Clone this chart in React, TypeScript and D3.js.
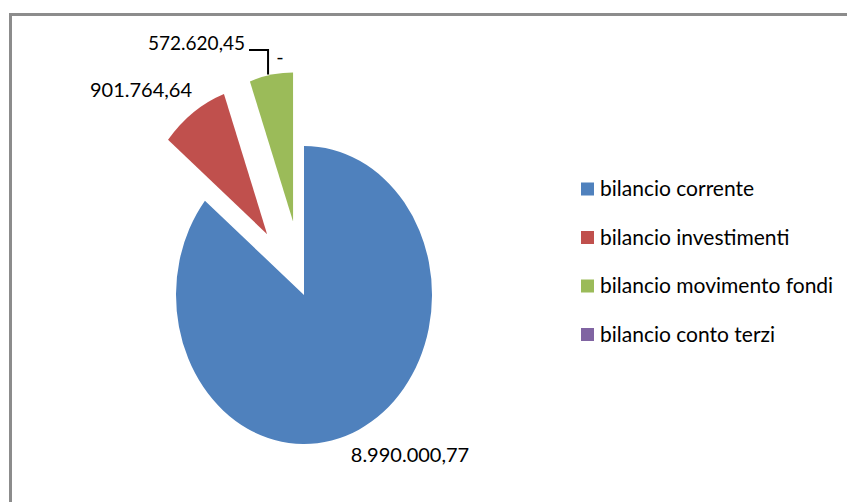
import React from 'react';
import * as d3 from 'd3';

const categories = ['bilancio corrente', 'bilancio investimenti', 'bilancio movimento fondi', 'bilancio conto terzi'];
const values = [8990000.77, 901764.64, 572620.45, 0];
const explode = [0, 0.5, 0.5, 0];
const colors = ['#4F81BD', '#C0504D', '#9BBB59', '#8064A2'];

const W = 847;
const H = 502;
const cx = 304;
const cy = 295;
const rx = 128;
const ry = 149;
const FONT = 'Lato, "Open Sans", sans-serif';

const itLocale = d3.formatLocale({ decimal: ',', thousands: '.', grouping: [3], currency: ['', ' €'] });
const fmt = (v: number) => (v === 0 ? '-' : itLocale.format(',.2f')(v));

export default function App() {
  const pie = d3.pie<number>().sort(null).startAngle(0).endAngle(2 * Math.PI)(values);
  const arc = d3.arc<d3.PieArcDatum<number>>().innerRadius(0).outerRadius(1);

  const offset = (i: number) => {
    const p = pie[i];
    const mid = (p.startAngle + p.endAngle) / 2;
    return [Math.sin(mid) * explode[i], -Math.cos(mid) * explode[i]];
  };
  const toPx = (i: number, ux: number, uy: number) => {
    const [ox, oy] = offset(i);
    return [cx + (ux + ox) * rx, cy + (uy + oy) * ry];
  };

  // top point of the exploded green slice (for the leader line)
  const gTop = toPx(2, 0, -1);

  const legendY = [189, 237.5, 286, 334.5];

  return (
    <svg width={W} height={H} style={{ position: 'absolute', left: 0, top: 0, background: '#fff' }}>
      <rect x={10.5} y={14.5} width={W + 20} height={H + 20} fill="#fff" stroke="#8c8c8c" strokeWidth={3} />
      {pie.map((p, i) => {
        const [ox, oy] = offset(i);
        return (
          <path
            key={i}
            d={arc(p) || ''}
            fill={colors[i]}
            transform={`translate(${cx + ox * rx},${cy + oy * ry}) scale(${rx},${ry})`}
          />
        );
      })}
      {/* data labels */}
      <text x={410} y={455} dy="0.35em" textAnchor="middle" fontFamily={FONT} fontSize={20} fill="#000">{fmt(values[0])}</text>
      <text x={141} y={90} dy="0.35em" textAnchor="middle" fontFamily={FONT} fontSize={20} fill="#000">{fmt(values[1])}</text>
      <text x={245} y={43} dy="0.35em" textAnchor="end" fontFamily={FONT} fontSize={19} fill="#000">{fmt(values[2])}</text>
      <text x={280} y={57} dy="0.35em" textAnchor="middle" fontFamily={FONT} fontSize={20} fill="#000">{fmt(values[3])}</text>
      <path d={`M249,50 H${gTop[0] - 25} V${gTop[1] + 2}`} fill="none" stroke="#000" strokeWidth={2} />
      {/* legend */}
      {categories.map((c, i) => (
        <g key={c}>
          <rect x={581} y={legendY[i] - 6.5} width={13} height={13} fill={colors[i]} />
          <text x={600} y={legendY[i]} dy="0.35em" fontFamily={FONT} fontSize={21} fill="#000">{c}</text>
        </g>
      ))}
    </svg>
  );
}
